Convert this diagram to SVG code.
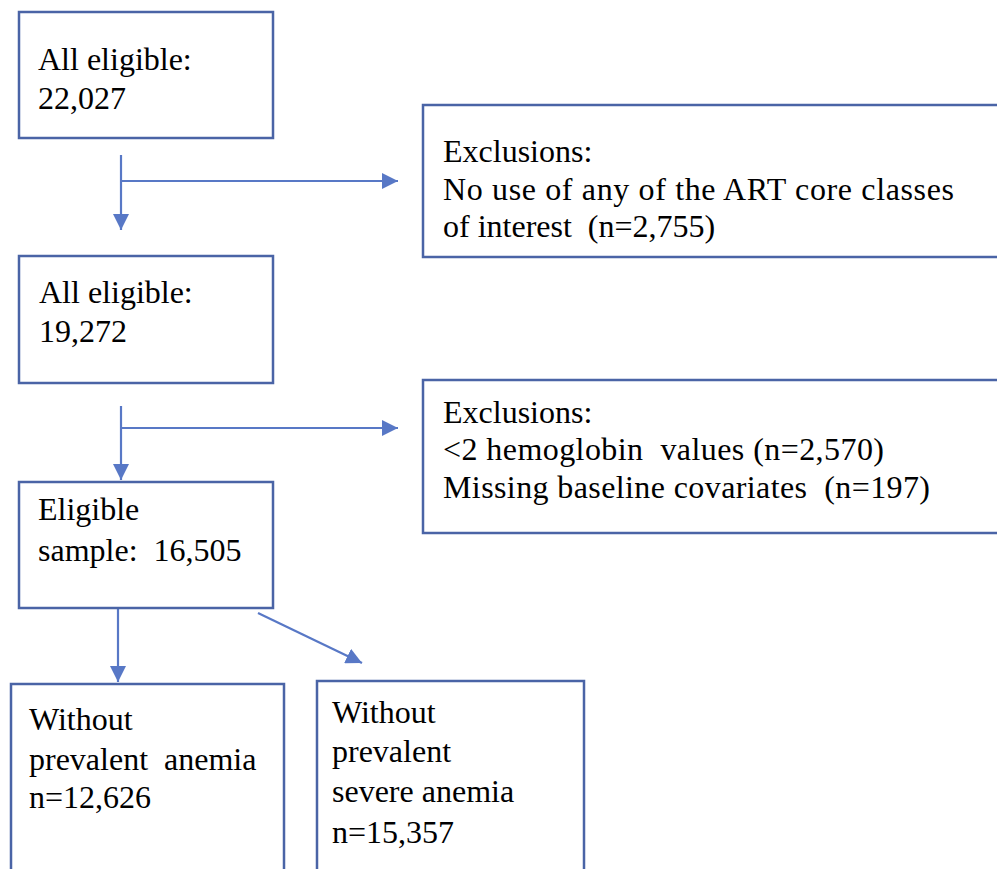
<svg xmlns="http://www.w3.org/2000/svg" width="997" height="869" viewBox="0 0 997 869" font-family="Liberation Serif, Times New Roman, DejaVu Serif, serif">
<style>
.box{fill:#ffffff;stroke:#4a64a6;stroke-width:2.5}
.t{font-family:'Liberation Serif','Times New Roman',serif;font-size:32px;fill:#000;white-space:pre}
.c{stroke:#5878c6;stroke-width:2.2;fill:none}
</style>
<defs>
<marker id="ah" markerUnits="userSpaceOnUse" viewBox="0 0 16 16" markerWidth="16" markerHeight="16" refX="16" refY="8" orient="auto">
<path d="M0,0 L16,8 L0,16 z" fill="#5878c6"/>
</marker>
</defs>
<rect width="997" height="869" fill="#ffffff"/>
<g id="connectors">
<line class="c" x1="121" y1="155" x2="121" y2="230" marker-end="url(#ah)"/>
<line class="c" x1="121" y1="181" x2="398" y2="181" marker-end="url(#ah)"/>
<line class="c" x1="121" y1="406" x2="121" y2="480" marker-end="url(#ah)"/>
<line class="c" x1="121" y1="428" x2="398" y2="428" marker-end="url(#ah)"/>
<line class="c" x1="118" y1="608" x2="118" y2="682" marker-end="url(#ah)"/>
<line class="c" x1="258" y1="613" x2="362" y2="663" marker-end="url(#ah)"/>
</g>
<g id="n1">
<rect class="box" x="19" y="12" width="254" height="126"/>
<text class="t" x="38" y="70">All eligible:</text>
<text class="t" x="38" y="109">22,027</text>
</g>
<g id="ex1">
<rect class="box" x="423" y="105" width="600" height="152"/>
<text class="t" x="443" y="162">Exclusions:</text>
<text class="t" x="443" y="200" textLength="511" lengthAdjust="spacing">No use of any of the ART core classes</text>
<text class="t" x="443" y="237">of interest  (n=2,755)</text>
</g>
<g id="n2">
<rect class="box" x="19" y="256" width="254" height="127"/>
<text class="t" x="39" y="303">All eligible:</text>
<text class="t" x="39" y="342">19,272</text>
</g>
<g id="ex2">
<rect class="box" x="423" y="380" width="600" height="153"/>
<text class="t" x="443" y="423">Exclusions:</text>
<text class="t" x="443" y="460" textLength="441" lengthAdjust="spacing">&lt;2 hemoglobin  values (n=2,570)</text>
<text class="t" x="443" y="498" textLength="487" lengthAdjust="spacing">Missing baseline covariates  (n=197)</text>
</g>
<g id="n3">
<rect class="box" x="19" y="482" width="254" height="126"/>
<text class="t" x="38" y="520">Eligible</text>
<text class="t" x="38" y="561">sample:  16,505</text>
</g>
<g id="n4">
<rect class="box" x="11" y="684" width="273" height="200"/>
<text class="t" x="29" y="730">Without</text>
<text class="t" x="29" y="770">prevalent  anemia</text>
<text class="t" x="29" y="808">n=12,626</text>
</g>
<g id="n5">
<rect class="box" x="317" y="681" width="267" height="200"/>
<text class="t" x="332" y="723">Without</text>
<text class="t" x="332" y="762">prevalent</text>
<text class="t" x="332" y="802">severe anemia</text>
<text class="t" x="332" y="843">n=15,357</text>
</g>
</svg>
